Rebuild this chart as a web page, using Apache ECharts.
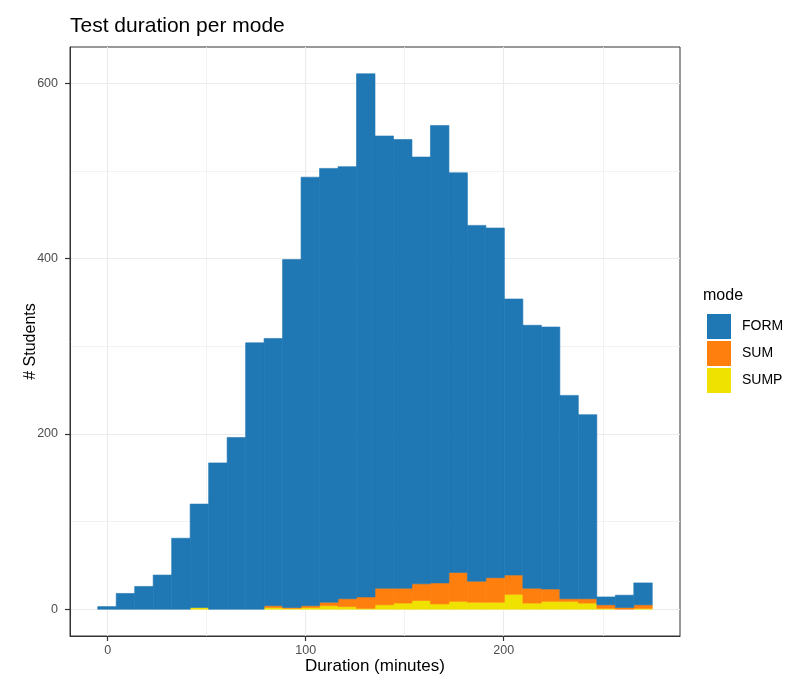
<!DOCTYPE html>
<html>
<head>
<meta charset="utf-8">
<script src="https://cdn.jsdelivr.net/npm/echarts@6/dist/echarts.min.js"></script>
<style>
	html, body { margin: 0; padding: 0; background: #fff; }
	#chart { width: 800px; height: 697px; }
</style>
</head>
<body>
<div id="chart"></div>
<script>
'use strict';

// histogram bins: 30 bins from -5 to 275 min
var binStart = -5;
var binWidth = 28 / 3;

var modeNames = ['FORM', 'SUM', 'SUMP'];
var modeColors = ['#1F77B4', '#FF7F0E', '#EFE100'];

// counts per bin
var formCounts = [3, 18, 26, 39, 81, 118, 167, 196, 304, 305, 397, 489, 495, 493, 597, 516, 512, 487, 522, 456, 406, 399, 315, 300, 299, 232, 210, 9, 14, 25];
var sumCounts = [0, 0, 0, 0, 0, 0, 0, 0, 0, 2, 1, 2, 4, 9, 13, 19, 17, 19, 24, 33, 24, 28, 22, 17, 14, 3, 5, 4, 2, 4];
var sumpCounts = [0, 0, 0, 0, 0, 2, 0, 0, 0, 2, 1, 2, 4, 3, 1, 5, 7, 10, 6, 9, 8, 8, 17, 7, 9, 9, 7, 1, 0, 1];

var xTicks = [0, 100, 200];
var xMinor = [50, 150, 250];
var yTicks = [0, 200, 400, 600];
var yMinor = [100, 300, 500];

var chart = echarts.init(document.getElementById('chart'));

//堆叠: SUMP 在底部, 然后 SUM, 然后 FORM
var stackOrder = [sumpCounts, sumCounts, formCounts];
var stackNames = ['SUMP', 'SUM', 'FORM'];
var rects = [[], [], []];
for (var i = 0; i < formCounts.length; i++) {
	var base = 0;
	var x0 = binStart + i * binWidth;
	var x1 = x0 + binWidth;
	for (var k = 0; k < stackOrder.length; k++) {
		var v = stackOrder[k][i];
		if (v > 0) {
			rects[k].push([x0, x1, base, base + v]);
		}
		base += v;
	}
}

var renderBin = function (params, api) {
	var p0 = api.coord([api.value(0), api.value(3)]);
	var p1 = api.coord([api.value(1), api.value(2)]);
	var color = api.visual('color');
	return {
		type: 'rect',
		shape: { x: p0[0], y: p0[1], width: p1[0] - p0[0], height: p1[1] - p0[1] },
		style: { fill: color, stroke: color, lineWidth: 0.6 }
	};
};

var series = stackNames.map(function (name, k) {
	return {
		name: name,
		type: 'custom',
		renderItem: renderBin,
		itemStyle: { color: modeColors[modeNames.indexOf(name)] },
		encode: { x: [0, 1], y: [2, 3] },
		data: rects[k]
	};
});

var labelStyle = { color: '#4D4D4D', fontSize: 12.5, fontFamily: 'Liberation Sans' };
var gridLine = { show: true, lineStyle: { color: '#EBEBEB', width: 1.1 } };
var minorLine = { show: true, lineStyle: { color: '#EFEFEF', width: 0.8 } };
var borderLine = { show: true, onZero: false, lineStyle: { color: '#333333', width: 1 } };
var tickStyle = { color: '#333333', width: 1.2 };

chart.setOption({
	animation: false,
	title: {
		text: 'Test duration per mode',
		left: 70,
		top: 16,
		padding: 0,
		textStyle: { color: '#000', fontSize: 21, fontWeight: 'normal', fontFamily: 'Liberation Sans' }
	},
	legend: {
		orient: 'vertical',
		left: 707,
		top: 314,
		padding: 0,
		itemWidth: 24,
		itemHeight: 25,
		itemGap: 2,
		icon: 'rect',
		data: modeNames,
		textStyle: { color: '#000', fontSize: 14, fontFamily: 'Liberation Sans', padding: [0, 0, 0, 6] }
	},
	graphic: [{
		type: 'text',
		left: 703,
		top: 288,
		style: { text: 'mode', fill: '#000', fontSize: 16, fontFamily: 'Liberation Sans' }
	}],
	grid: {
		left: 70,
		top: 47,
		right: 120,
		bottom: 61,
		show: true,
		borderColor: '#333333',
		borderWidth: 1,
		backgroundColor: 'transparent'
	},
	xAxis: [{
		type: 'value',
		min: -19,
		max: 289,
		name: 'Duration (minutes)',
		nameLocation: 'middle',
		nameGap: 22,
		nameMoveOverlap: false,
		nameTextStyle: { color: '#000', fontSize: 17, fontFamily: 'Liberation Sans' },
		axisLine: borderLine,
		axisTick: { show: true, length: 5, customValues: xTicks, lineStyle: tickStyle },
		axisLabel: Object.assign({ customValues: xTicks, margin: 8 }, labelStyle),
		splitLine: gridLine
	}, {
		type: 'value',
		min: -19,
		max: 289,
		position: 'bottom',
		axisLine: { show: false, onZero: false },
		axisTick: { show: false, customValues: xMinor },
		axisLabel: { show: false, customValues: xMinor },
		splitLine: minorLine
	}],
	yAxis: [{
		type: 'value',
		min: -30.55,
		max: 641.55,
		name: '# Students',
		nameLocation: 'middle',
		nameGap: 31,
		nameMoveOverlap: false,
		nameTextStyle: { color: '#000', fontSize: 16, fontFamily: 'Liberation Sans' },
		axisLine: borderLine,
		axisTick: { show: true, length: 5, customValues: yTicks, lineStyle: tickStyle },
		axisLabel: Object.assign({ customValues: yTicks, margin: 12 }, labelStyle),
		splitLine: gridLine
	}, {
		type: 'value',
		min: -30.55,
		max: 641.55,
		position: 'left',
		axisLine: { show: false, onZero: false },
		axisTick: { show: false, customValues: yMinor },
		axisLabel: { show: false, customValues: yMinor },
		splitLine: minorLine
	}],
	series: series
});
</script>
</body>
</html>
